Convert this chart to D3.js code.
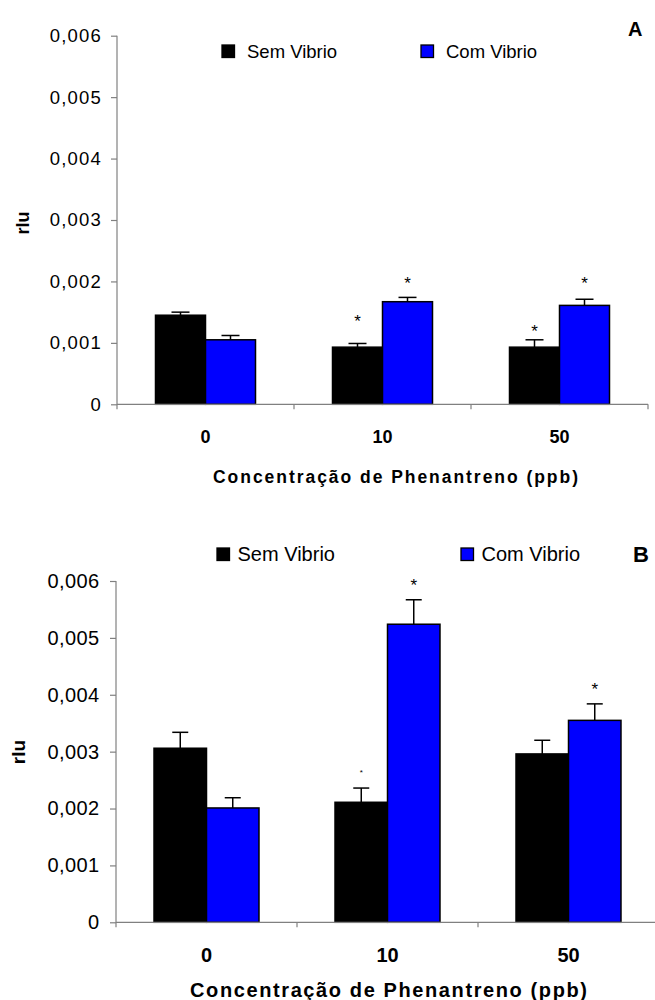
<!DOCTYPE html>
<html>
<head>
<meta charset="utf-8">
<script src="https://cdn.jsdelivr.net/npm/d3@7"></script>
<style>
  html, body { margin: 0; padding: 0; background: #fff; }
  svg { display: block; font-family: "Liberation Sans", Arial, sans-serif; }
</style>
</head>
<body>
<svg id="chart" width="655" height="1000"></svg>
<script>
// Phenanthrene concentration groups and series
const categories = ["0", "10", "50"];
const seriesNames = ["Sem Vibrio", "Com Vibrio"];
const seriesColors = ["#000000", "#0000ff"];
const yTickValues = [0, 0.001, 0.002, 0.003, 0.004, 0.005, 0.006];
const yTickLabels = ["0", "0,001", "0,002", "0,003", "0,004", "0,005", "0,006"];
const xTitle = "Concentração de Phenantreno (ppb)";
const yTitle = "rlu";

// Panel A: means, standard errors and significance marks
const semA = [0.00145, 0.00093, 0.00093];
const comA = [0.00105, 0.00167, 0.00161];
const semErrA = [0.00005, 0.00006, 0.00012];
const comErrA = [0.00007, 0.00007, 0.00010];
const semStarA = [null, 0.00141, 0.00124];
const comStarA = [null, 0.00203, 0.00203];

// Panel B: means, standard errors and significance marks
const semB = [0.00306, 0.00211, 0.00296];
const comB = [0.00201, 0.00524, 0.00355];
const semErrB = [0.00028, 0.00025, 0.00024];
const comErrB = [0.00018, 0.00043, 0.00029];
const semStarB = [null, 0.00267, null];
const comStarB = [null, 0.00599, 0.00416];

const svg = d3.select("#chart");

function drawPanel(cfg) {
  const g = svg.append("g");
  const x = d3.scaleBand().domain(categories).range(cfg.xRange)
    .paddingInner(cfg.pad).paddingOuter(cfg.pad / 2);
  const xs = d3.scaleBand().domain(seriesNames).range([0, x.bandwidth()]);
  const y = d3.scaleLinear().domain([0, 0.006]).range(cfg.yRange);

  const series = [
    { name: seriesNames[0], color: seriesColors[0], vals: cfg.sem, err: cfg.semErr, star: cfg.semStar, starSize: cfg.semStarSize },
    { name: seriesNames[1], color: seriesColors[1], vals: cfg.com, err: cfg.comErr, star: cfg.comStar, starSize: cfg.comStarSize }
  ];

  // y axis
  const yAxis = g.append("g")
    .attr("transform", `translate(${cfg.xRange[0]},0)`)
    .call(d3.axisLeft(y).tickValues(yTickValues).tickSize(6).tickPadding(cfg.tickPad)
      .tickFormat((d, i) => yTickLabels[i]));
  yAxis.select(".domain").attr("stroke", "#808080").attr("stroke-width", 1.2)
    .attr("d", `M0,${cfg.yRange[1]}V${cfg.yRange[0] + 5}`);
  yAxis.selectAll(".tick line").attr("stroke", "#808080").attr("stroke-width", 1.2);
  yAxis.selectAll(".tick text").attr("fill", "#000").attr("font-size", cfg.tickFont)
    .attr("letter-spacing", cfg.tickSpacing).attr("font-family", "Liberation Sans, Arial, sans-serif");

  // bars
  series.forEach(s => {
    g.append("g").selectAll("rect").data(categories).join("rect")
      .attr("x", c => x(c) + xs(s.name))
      .attr("y", (c, i) => y(s.vals[i]))
      .attr("width", xs.bandwidth())
      .attr("height", (c, i) => y(0) - y(s.vals[i]))
      .attr("fill", s.color)
      .attr("stroke", "#000")
      .attr("stroke-width", 1.5);
  });

  // error bars (upper half only)
  series.forEach(s => {
    const eg = g.append("g").attr("stroke", "#000").attr("stroke-width", 1.5);
    categories.forEach((c, i) => {
      const cx = x(c) + xs(s.name) + xs.bandwidth() / 2;
      const top = y(s.vals[i] + s.err[i]);
      eg.append("line").attr("x1", cx).attr("x2", cx).attr("y1", y(s.vals[i])).attr("y2", top);
      eg.append("line").attr("x1", cx - cfg.cap / 2).attr("x2", cx + cfg.cap / 2).attr("y1", top).attr("y2", top);
    });
  });

  // significance marks
  series.forEach(s => {
    categories.forEach((c, i) => {
      if (s.star[i] == null) return;
      const cx = x(c) + xs(s.name) + xs.bandwidth() / 2;
      g.append("text").attr("x", cx).attr("y", y(s.star[i]) + s.starSize * 0.55)
        .attr("text-anchor", "middle").attr("font-size", s.starSize).attr("fill", "#000")
        .text("*");
    });
  });

  // x axis baseline with boundary ticks
  const x0 = cfg.xRange[0], x1 = cfg.xRange[1];
  g.append("line").attr("x1", x0).attr("x2", x1).attr("y1", y(0)).attr("y2", y(0))
    .attr("stroke", "#808080").attr("stroke-width", 1.2);
  d3.range(1, categories.length + 1).forEach(k => {
    const tx = x0 + x.step() * k;
    g.append("line").attr("x1", tx).attr("x2", tx).attr("y1", y(0)).attr("y2", y(0) + 5)
      .attr("stroke", "#808080").attr("stroke-width", 1.2);
  });

  // category labels
  g.append("g").selectAll("text").data(categories).join("text")
    .attr("x", c => x(c) + x.bandwidth() / 2)
    .attr("y", cfg.catY)
    .attr("text-anchor", "middle").attr("font-weight", "bold")
    .attr("font-size", cfg.catFont).attr("fill", "#000")
    .text(c => c);

  // axis titles
  g.append("text").attr("x", cfg.titleX).attr("y", cfg.titleY)
    .attr("font-weight", "bold").attr("font-size", cfg.titleFont)
    .attr("textLength", cfg.titleLen).attr("lengthAdjust", "spacing")
    .text(xTitle);
  g.append("text").attr("transform", `translate(${cfg.rluX},${cfg.rluY}) rotate(-90)`)
    .attr("text-anchor", "middle").attr("font-weight", "bold").attr("font-size", cfg.rluFont)
    .text(yTitle);

  // legend
  series.forEach((s, i) => {
    g.append("rect").attr("x", cfg.legX[i]).attr("y", cfg.legY).attr("width", 12.5).attr("height", 12.5)
      .attr("fill", s.color).attr("stroke", "#000").attr("stroke-width", 1.3);
    g.append("text").attr("x", cfg.legX[i] + cfg.legGap).attr("y", cfg.legY + 12.5)
      .attr("font-size", cfg.legFont).attr("fill", "#000").text(s.name);
  });

  // panel letter
  g.append("text").attr("x", cfg.letterX).attr("y", cfg.letterY)
    .attr("font-weight", "bold").attr("font-size", cfg.letterFont).text(cfg.letter);
}

drawPanel({
  letter: "A", letterX: 628, letterY: 36, letterFont: 20,
  xRange: [117, 648], yRange: [404.3, 35.7], pad: 0.435, cap: 18,
  sem: semA, com: comA, semErr: semErrA, comErr: comErrA,
  semStar: semStarA, comStar: comStarA, semStarSize: 17, comStarSize: 17,
  tickFont: 18.5, tickSpacing: 1.2, tickPad: 9,
  catY: 443, catFont: 18,
  titleX: 213, titleY: 483, titleFont: 17.5, titleLen: 365,
  rluX: 29, rluY: 223, rluFont: 18,
  legX: [222, 421], legY: 45, legGap: 25, legFont: 18.5
});

drawPanel({
  letter: "B", letterX: 633, letterY: 561.5, letterFont: 22,
  xRange: [116, 659], yRange: [922.3, 581], pad: 0.42, cap: 16,
  sem: semB, com: comB, semErr: semErrB, comErr: comErrB,
  semStar: semStarB, comStar: comStarB, semStarSize: 8, comStarSize: 17,
  tickFont: 20, tickSpacing: 0.4, tickPad: 10.5,
  catY: 961.5, catFont: 20,
  titleX: 190, titleY: 996.5, titleFont: 20, titleLen: 397,
  rluX: 25, rluY: 752, rluFont: 19,
  legX: [217, 461], legY: 548, legGap: 20.5, legFont: 20
});
</script>
</body>
</html>
